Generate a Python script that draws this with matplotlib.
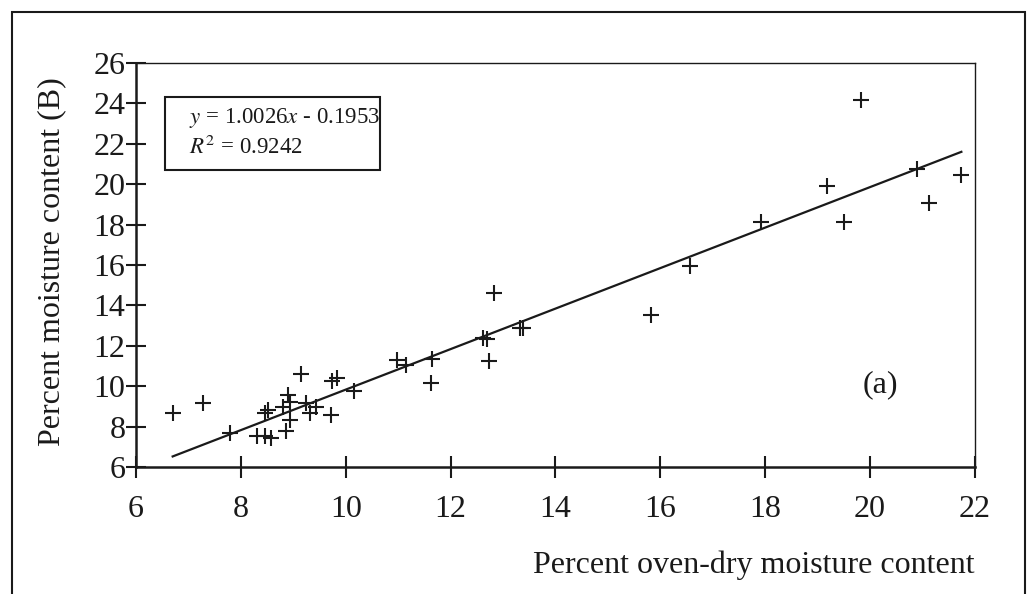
import numpy as np
import matplotlib
matplotlib.use("Agg")
import matplotlib.pyplot as plt
from matplotlib.patches import Rectangle

# Veriler
x_etuv = [6.70, 7.27, 7.79, 8.30, 8.46, 8.57, 8.86, 8.46, 8.51, 8.81,
          8.89, 8.93, 8.94, 9.14, 9.24, 9.31, 9.44, 9.71, 9.73, 9.83,
          10.16, 10.97, 11.15, 11.62, 11.64, 12.62, 12.69, 12.74, 12.82, 13.33,
          13.39, 15.82, 16.57, 17.91, 19.17, 19.51, 19.83, 20.90, 21.12, 21.74]
y_nem = [8.69, 9.18, 7.70, 7.53, 7.53, 7.42, 7.80, 8.66, 8.82, 8.98,
         9.56, 9.23, 8.33, 10.60, 9.18, 8.66, 8.95, 8.57, 10.27, 10.39,
         9.78, 11.30, 11.05, 10.17, 11.33, 12.40, 12.32, 11.25, 14.63, 12.87,
         12.87, 13.52, 15.97, 18.14, 19.91, 18.14, 24.17, 20.73, 19.05, 20.46]
egim = 1.0026
kesisim = -0.1953
r_kare = 0.9242
x_tikler = [6, 8, 10, 12, 14, 16, 18, 20, 22]
y_tikler = [6, 8, 10, 12, 14, 16, 18, 20, 22, 24, 26]

plt.rcParams["font.family"] = ["Liberation Serif", "DejaVu Serif"]
plt.rcParams["mathtext.fontset"] = "stix"

fig = plt.figure(figsize=(10.3, 5.94), dpi=100)
ax = fig.add_axes([0.132, 0.2138, 0.8146, 0.6802])

ax.plot(x_etuv, y_nem, linestyle="none", marker="+", markersize=12,
        markeredgewidth=1.5, color="#1a1a1a")

# Regresyon dogrusu
xr = np.array([min(x_etuv), max(x_etuv)])
ax.plot(xr, egim * xr + kesisim, color="#1a1a1a", linewidth=1.6)

ax.set_xlim(6, 22)
ax.set_ylim(6, 26)
ax.set_xticks(x_tikler)
ax.set_yticks(y_tikler)
ax.tick_params(axis="x", direction="inout", length=16, width=1.5, pad=12,
               labelsize=23, colors="#1a1a1a")
ax.tick_params(axis="y", direction="inout", length=15, width=1.5, pad=0,
               labelsize=23, colors="#1a1a1a")
for s in ["left", "bottom"]:
    ax.spines[s].set_linewidth(1.8)
for s in ["top", "right"]:
    ax.spines[s].set_linewidth(1.0)
for s in ax.spines.values():
    s.set_color("#1a1a1a")

# Denklem kutusu
ax.add_patch(Rectangle((0.035, 0.735), 0.256, 0.181, transform=ax.transAxes,
                       fill=False, edgecolor="#1a1a1a", linewidth=1.5))
ax.text(0.063, 0.865, r"$y$ = 1.0026$x$ - 0.1953", transform=ax.transAxes,
        fontsize=16.5, va="center", ha="left", color="#1a1a1a")
ax.text(0.063, 0.79, r"$R^2$ = 0.9242", transform=ax.transAxes,
        fontsize=16.5, va="center", ha="left", color="#1a1a1a")
ax.text(0.887, 0.203, "(a)", transform=ax.transAxes, fontsize=23,
        ha="center", va="center", color="#1a1a1a")

fig.text(0.946, 0.048, "Percent oven-dry moisture content", fontsize=23,
         ha="right", va="center", color="#1a1a1a")
fig.text(0.05, 0.56, "Percent moisture content (B)", fontsize=23,
         rotation=90, ha="center", va="center", color="#1a1a1a")

# Dis cerceve
fig.patches.append(Rectangle((0.012, -0.05), 0.983, 1.03, transform=fig.transFigure,
                             fill=False, edgecolor="#1a1a1a", linewidth=1.5))

fig.savefig("out.png", dpi=100)
